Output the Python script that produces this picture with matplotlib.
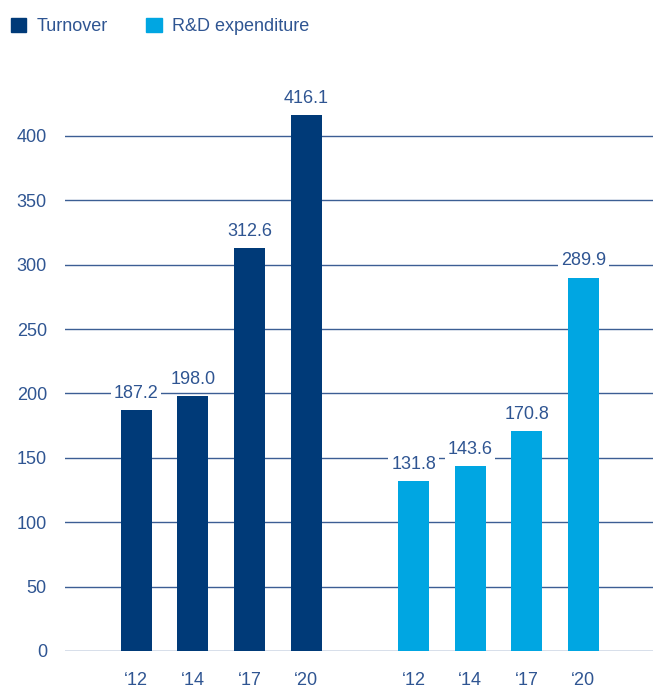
import numpy as np
import matplotlib.pyplot as plt
from matplotlib.patches import Patch

# Data
years = ["\u201812", "\u201814", "\u201817", "\u201820"]
turnover = [187.2, 198.0, 312.6, 416.1]
rnd = [131.8, 143.6, 170.8, 289.9]

c_turn = "#003a78"
c_rnd = "#00a6e2"
c_text = "#2f5592"
c_grid = "#3c5e94"

plt.rcParams["font.family"] = ["Liberation Sans", "DejaVu Sans"]

fig = plt.figure(figsize=(6.53, 6.88), dpi=100)
ax = fig.add_axes([0.0995, 0.0538, 0.9005, 0.8422])

x1 = np.arange(len(years))
x2 = x1 + len(years) + 0.9
bw = 0.55

b1 = ax.bar(x1, turnover, width=bw, color=c_turn, zorder=3)
b2 = ax.bar(x2, rnd, width=bw, color=c_rnd, zorder=3)

for bars, vals in [(b1, turnover), (b2, rnd)]:
    for b, v in zip(bars, vals):
        ax.annotate(f"{v:.1f}", (b.get_x() + b.get_width() / 2, v),
                    xytext=(0, 6), textcoords="offset points",
                    ha="center", va="bottom", fontsize=13, color=c_text,
                    bbox=dict(boxstyle="square,pad=0.15", fc="white", ec="none"),
                    zorder=4)

ax.set_ylim(0, 450)
ax.set_xlim(-1.26, x2[-1] + 1.23)
ax.set_yticks(np.arange(0, 401, 50))
ax.yaxis.grid(True, color=c_grid, linewidth=1.0, zorder=0)
ax.set_axisbelow(True)
ax.set_xticks(np.concatenate([x1, x2]))
ax.set_xticklabels(years + years)
ax.tick_params(axis="both", length=0, labelsize=13, labelcolor=c_text)
ax.tick_params(axis="y", pad=13)
ax.tick_params(axis="x", pad=15)
for s in ax.spines.values():
    s.set_visible(False)

handles = [Patch(color=c_turn, label="Turnover"),
           Patch(color=c_rnd, label="R&D expenditure")]
leg = fig.legend(handles=handles, loc="upper left", bbox_to_anchor=(0.0, 0.99),
                 ncol=2, frameon=False, fontsize=13, handlelength=0.85,
                 handleheight=0.85, handletextpad=0.6, columnspacing=2.1,
                 borderpad=0.4, borderaxespad=0.2)
for t in leg.get_texts():
    t.set_color(c_text)

fig.savefig("out.png", dpi=100)
